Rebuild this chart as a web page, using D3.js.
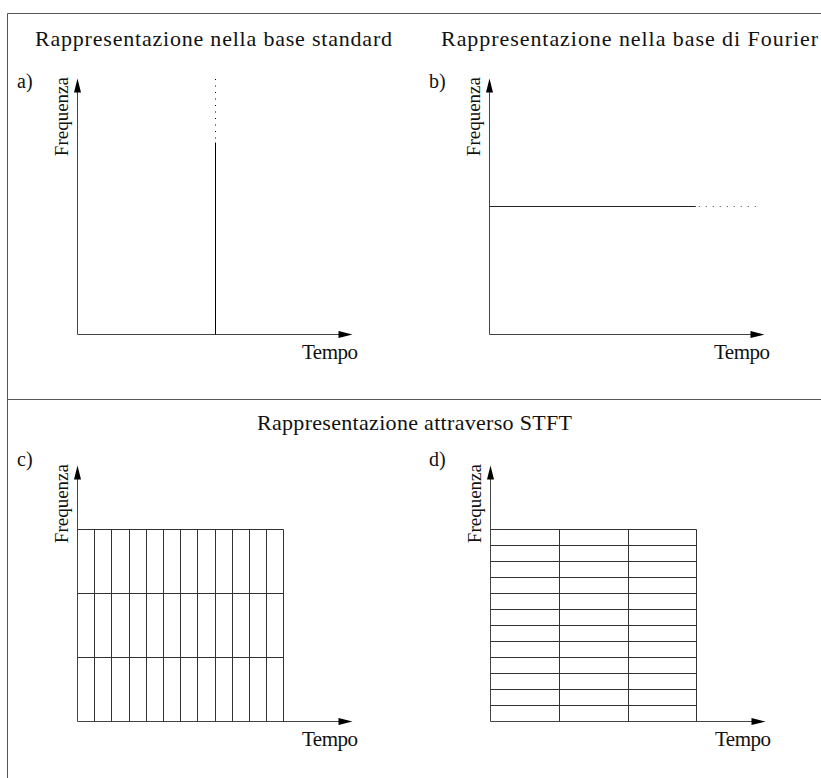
<!DOCTYPE html>
<html>
<head>
<meta charset="utf-8">
<script src="https://cdn.jsdelivr.net/npm/d3@7/dist/d3.min.js"></script>
<style>
  html, body { margin: 0; padding: 0; background: #fff; }
  svg { display: block; }
</style>
</head>
<body>
<div id="chart"></div>
<script>
// ---- data ----
const panelTitles = ["Rappresentazione nella base standard", "Rappresentazione nella base di Fourier", "Rappresentazione attraverso STFT"];
const panelLetters = ["a)", "b)", "c)", "d)"];
const axisLabelX = "Tempo";
const axisLabelY = "Frequenza";
// a) standard basis: a spike at one time instant (solid up to 0.75, dotted to 1)
const spikeTime = [0.5];
const spikeSolidTop = [0.75];
const spikeDottedTop = [1.0];
// b) Fourier basis: a single frequency for all time
const fourierFreq = [0.5];
const fourierSolidEnd = [0.75];
const fourierDottedEnd = [0.99];
// c) STFT narrow window: 12 time columns x 3 frequency rows
const gridC_cols = [12];
const gridC_rows = [3];
// d) STFT wide window: 3 time columns x 12 frequency rows
const gridD_cols = [3];
const gridD_rows = [12];
const gridExtent = [0.75]; // grid covers this fraction of both axes

const W = 821, H = 778;
const FONT = "'Liberation Serif', 'DejaVu Serif', serif";
const svg = d3.select("#chart").append("svg").attr("width", W).attr("height", H)
  .style("font-family", FONT);
const g = svg.append("g").attr("transform", "translate(0.5,0.5)");
const lineCol = "#333";

function txt(sel) {
  return sel.append("text").attr("font-family", FONT).style("font-family", FONT).attr("fill", "#111");
}

// frame
g.append("path").attr("d", `M7,${H+2}V13H${W+2}`).attr("fill", "none").attr("stroke", "#555");
g.append("line").attr("x1", 7).attr("x2", W + 2).attr("y1", 399).attr("y2", 399).attr("stroke", "#555");

// titles
const titleSize = 22;
txt(svg).attr("x", 35).attr("y", 46).attr("font-size", titleSize)
  .attr("textLength", 357).attr("lengthAdjust", "spacing").text(panelTitles[0]);
txt(svg).attr("x", 441).attr("y", 46).attr("font-size", titleSize)
  .attr("textLength", 377).attr("lengthAdjust", "spacing").text(panelTitles[1]);
txt(svg).attr("x", 257).attr("y", 430).attr("font-size", titleSize)
  .attr("textLength", 315).attr("lengthAdjust", "spacing").text(panelTitles[2]);

// panel geometry
const panels = [
  { ox: 77, oy: 334, lx: 17, ly: 88 },
  { ox: 489, oy: 334, lx: 429, ly: 88 },
  { ox: 77, oy: 721, lx: 17, ly: 466 },
  { ox: 490, oy: 721, lx: 429, ly: 466 }
];
const axLenX = 275, axLenY = 256;

const scales = panels.map(p => ({
  x: d3.scaleLinear().domain([0, 1]).range([p.ox, p.ox + axLenX]),
  y: d3.scaleLinear().domain([0, 1]).range([p.oy, p.oy - axLenY])
}));

function drawAxes(i) {
  const p = panels[i], s = scales[i];
  const pg = g.append("g");
  const ah = 14, aw = 3.5;
  // y axis
  pg.append("line").attr("x1", s.x(0)).attr("x2", s.x(0)).attr("y1", s.y(0)).attr("y2", s.y(1) + ah - 1).attr("stroke", "#444");
  pg.append("path").attr("d", `M${s.x(0)},${s.y(1)}L${s.x(0) - aw},${s.y(1) + ah}L${s.x(0) + aw},${s.y(1) + ah}Z`).attr("fill", "#000");
  // x axis
  pg.append("line").attr("x1", s.x(0)).attr("x2", s.x(1) - ah + 1).attr("y1", s.y(0)).attr("y2", s.y(0)).attr("stroke", "#444");
  pg.append("path").attr("d", `M${s.x(1)},${s.y(0)}L${s.x(1) - ah},${s.y(0) - aw}L${s.x(1) - ah},${s.y(0) + aw}Z`).attr("fill", "#000");
  // labels
  txt(svg).attr("x", s.x(1) - 50).attr("y", s.y(0) + 25).attr("font-size", 21)
    .attr("textLength", 56).attr("lengthAdjust", "spacing").text(axisLabelX);
  txt(svg).attr("transform", `translate(${s.x(0) - 9},${s.y(1) - 1}) rotate(-90)`).attr("text-anchor", "end").attr("font-size", 19).text(axisLabelY);
  txt(svg).attr("x", p.lx).attr("y", p.ly).attr("font-size", 20).text(panelLetters[i]);
}
[0, 1, 2, 3].forEach(drawAxes);

// a) spike
{
  const s = scales[0];
  g.selectAll(".spike").data(spikeTime).enter().append("line")
    .attr("x1", d => Math.round(s.x(d))).attr("x2", d => Math.round(s.x(d)))
    .attr("y1", s.y(0)).attr("y2", s.y(spikeSolidTop[0]))
    .attr("stroke", "#000");
  g.selectAll(".spikeDot").data(spikeTime).enter().append("line")
    .attr("x1", d => Math.round(s.x(d))).attr("x2", d => Math.round(s.x(d)))
    .attr("y1", s.y(spikeSolidTop[0]) - 4).attr("y2", s.y(spikeDottedTop[0]))
    .attr("stroke", "#000").attr("stroke-dasharray", "1,5.5");
}
// b) Fourier line
{
  const s = scales[1];
  g.selectAll(".freq").data(fourierFreq).enter().append("line")
    .attr("x1", s.x(0)).attr("x2", s.x(fourierSolidEnd[0]))
    .attr("y1", d => Math.round(s.y(d))).attr("y2", d => Math.round(s.y(d)))
    .attr("stroke", "#222");
  g.selectAll(".freqDot").data(fourierFreq).enter().append("line")
    .attr("x1", s.x(fourierSolidEnd[0]) + 3).attr("x2", s.x(fourierDottedEnd[0]))
    .attr("y1", d => Math.round(s.y(d))).attr("y2", d => Math.round(s.y(d)))
    .attr("stroke", "#444").attr("stroke-dasharray", "1,6");
}
// STFT grids
function drawGrid(i, nCols, nRows) {
  const s = scales[i];
  const gx = d3.range(nCols + 1).map(k => gridExtent[0] * k / nCols);
  const gy = d3.range(nRows + 1).map(k => gridExtent[0] * k / nRows);
  const gg = g.append("g");
  gg.selectAll(".v").data(gx.slice(1)).enter().append("line")
    .attr("x1", d => Math.round(s.x(d))).attr("x2", d => Math.round(s.x(d)))
    .attr("y1", s.y(0)).attr("y2", Math.round(s.y(gridExtent[0])))
    .attr("stroke", lineCol);
  gg.selectAll(".h").data(gy.slice(1)).enter().append("line")
    .attr("x1", s.x(0)).attr("x2", Math.round(s.x(gridExtent[0])))
    .attr("y1", d => Math.round(s.y(d))).attr("y2", d => Math.round(s.y(d)))
    .attr("stroke", lineCol);
}
drawGrid(2, gridC_cols[0], gridC_rows[0]);
drawGrid(3, gridD_cols[0], gridD_rows[0]);
</script>
</body>
</html>
